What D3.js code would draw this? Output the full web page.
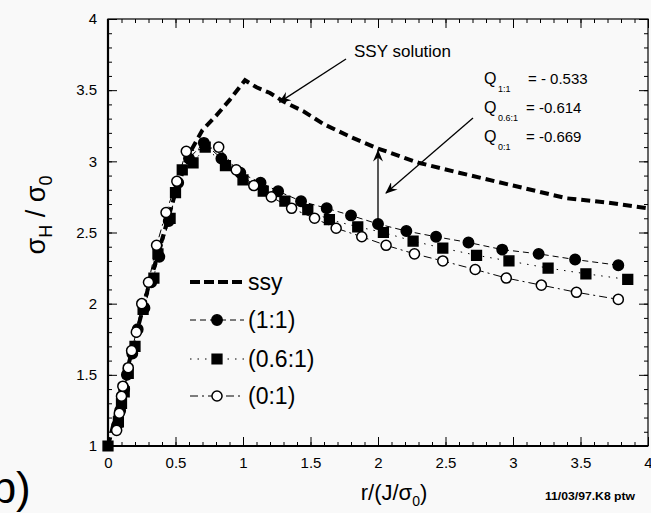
<!DOCTYPE html>
<html>
<head>
<meta charset="utf-8">
<script src="https://cdn.jsdelivr.net/npm/d3@7"></script>
<style>
  body { margin: 0; background: #f9f9f9; }
  svg { display: block; font-family: "Liberation Sans", Arial, sans-serif; }
</style>
</head>
<body>
<div id="chart"></div>
<script>
// values
var ssyX = [0.0, 0.1, 0.2, 0.3, 0.4, 0.5, 0.6, 0.7, 0.8, 0.9, 1.015, 1.1, 1.2, 1.3, 1.45, 1.6, 1.8, 2.0, 2.3, 2.6, 3.0, 3.4, 3.7, 4.0];
var ssyY = [1.0, 1.38, 1.75, 2.12, 2.45, 2.78, 3.05, 3.22, 3.32, 3.43, 3.57, 3.52, 3.48, 3.42, 3.35, 3.26, 3.17, 3.09, 2.99, 2.92, 2.83, 2.74, 2.71, 2.67];

var x11 = [0.07, 0.09, 0.12, 0.14, 0.18, 0.22, 0.27, 0.32, 0.38, 0.45, 0.52, 0.6, 0.71, 0.84, 0.98, 1.13, 1.26, 1.43, 1.62, 1.80, 2.0, 2.21, 2.43, 2.67, 2.92, 3.19, 3.46, 3.78];
var y11 = [1.15, 1.25, 1.40, 1.50, 1.65, 1.82, 1.97, 2.15, 2.33, 2.58, 2.85, 3.02, 3.13, 3.02, 2.92, 2.85, 2.79, 2.72, 2.67, 2.62, 2.56, 2.51, 2.47, 2.43, 2.38, 2.35, 2.31, 2.27];

var x61 = [0.0, 0.077, 0.10, 0.12, 0.15, 0.2, 0.26, 0.34, 0.37, 0.46, 0.5, 0.55, 0.63, 0.72, 0.87, 1.0, 1.15, 1.31, 1.48, 1.64, 1.85, 2.04, 2.26, 2.48, 2.73, 2.97, 3.26, 3.54, 3.85];
var y61 = [1.0, 1.17, 1.30, 1.38, 1.51, 1.70, 1.96, 2.18, 2.35, 2.60, 2.78, 2.94, 2.99, 3.10, 2.97, 2.87, 2.79, 2.72, 2.66, 2.59, 2.54, 2.50, 2.44, 2.39, 2.34, 2.30, 2.25, 2.21, 2.17];

var x01 = [0.064, 0.084, 0.10, 0.11, 0.15, 0.175, 0.21, 0.25, 0.30, 0.36, 0.43, 0.51, 0.58, 0.82, 0.95, 1.08, 1.21, 1.36, 1.53, 1.69, 1.88, 2.06, 2.27, 2.48, 2.72, 2.95, 3.21, 3.47, 3.78];
var y01 = [1.11, 1.23, 1.35, 1.42, 1.55, 1.67, 1.80, 2.0, 2.15, 2.41, 2.64, 2.86, 3.07, 3.10, 2.94, 2.83, 2.75, 2.67, 2.60, 2.53, 2.47, 2.41, 2.35, 2.30, 2.24, 2.18, 2.13, 2.08, 2.03];

var xTicks = [0, 0.5, 1, 1.5, 2, 2.5, 3, 3.5, 4];
var yTicks = [1, 1.5, 2, 2.5, 3, 3.5, 4];
var legendLabels = ["ssy", "(1:1)", "(0.6:1)", "(0:1)"];
var qNames = ["1:1", "0.6:1", "0:1"];
var qValues = ["- 0.533", "-0.614", "-0.669"];

var W = 651, H = 513;
var margin = {top: 19, right: 3, bottom: 67, left: 108},
    width = W - margin.left - margin.right,
    height = H - margin.top - margin.bottom;

var x = d3.scaleLinear().domain([0, 4]).range([0, width]);
var y = d3.scaleLinear().domain([1, 4]).range([height, 0]);

var svgRoot = d3.select("#chart").append("svg")
    .attr("width", W)
    .attr("height", H)
    .style("background", "#f9f9f9");

var defs = svgRoot.append("defs");
defs.append("marker")
    .attr("id", "arrow")
    .attr("viewBox", "0 0 12 10")
    .attr("refX", 11).attr("refY", 5)
    .attr("markerWidth", 12).attr("markerHeight", 10)
    .attr("markerUnits", "userSpaceOnUse")
    .attr("orient", "auto")
  .append("path")
    .attr("d", "M0,0 L12,5 L0,10 L4,5 Z")
    .style("fill", "#000");

var svg = svgRoot.append("g")
    .attr("transform", "translate(" + margin.left + "," + margin.top + ")");

// minor ticks every 0.1
var xMinor = d3.range(0, 40.5, 1).map(function(d) { return d / 10; });
var yMinor = d3.range(10, 40.5, 1).map(function(d) { return d / 10; });

function drawAxis(axis, tr) {
    var g = svg.append("g").attr("transform", tr).call(axis);
    g.select(".domain").remove();
    g.selectAll("line").style("stroke", "#000").style("stroke-width", 1);
    return g;
}

drawAxis(d3.axisBottom(x).tickValues(xMinor).tickSize(-4).tickFormat(""), "translate(0," + height + ")");
drawAxis(d3.axisTop(x).tickValues(xMinor).tickSize(-4).tickFormat(""), "translate(0,0)");
drawAxis(d3.axisLeft(y).tickValues(yMinor).tickSize(-4).tickFormat(""), "translate(0,0)");
drawAxis(d3.axisRight(y).tickValues(yMinor).tickSize(-4).tickFormat(""), "translate(" + width + ",0)");

var xb = drawAxis(d3.axisBottom(x).tickValues(xTicks).tickSize(-9).tickPadding(12)
    .tickFormat(function(d) { return d; }), "translate(0," + height + ")");
drawAxis(d3.axisTop(x).tickValues(xTicks).tickSize(-9).tickFormat(""), "translate(0,0)");
var yl = drawAxis(d3.axisLeft(y).tickValues(yTicks).tickSize(-9).tickPadding(11)
    .tickFormat(function(d) { return d; }), "translate(0,0)");
drawAxis(d3.axisRight(y).tickValues(yTicks).tickSize(-9).tickFormat(""), "translate(" + width + ",0)");

xb.selectAll("text").style("font-size", "15px").style("fill", "#000").attr("y", 11);
yl.selectAll("text").style("font-size", "15px").style("fill", "#000");

// frame
svg.append("rect")
    .attr("width", width).attr("height", height)
    .style("fill", "none").style("stroke", "#000").style("stroke-width", 1.2);
svg.append("line").attr("x1", 0).attr("x2", 0).attr("y1", 0).attr("y2", height)
    .style("stroke", "#000").style("stroke-width", 2.2);
svg.append("line").attr("x1", 0).attr("x2", width).attr("y1", height).attr("y2", height)
    .style("stroke", "#000").style("stroke-width", 2.2);

function pts(xs, ys) { return xs.map(function(v, i) { return [v, ys[i]]; }); }
var line = d3.line().x(function(d) { return x(d[0]); }).y(function(d) { return y(d[1]); });

var series = [
    {name: "(1:1)", data: pts(x11, y11), dash: "6,4", sym: d3.symbolCircle, size: 85, fill: "#000"},
    {name: "(0.6:1)", data: pts(x61, y61), dash: "1.5,6", sym: d3.symbolSquare, size: 95, fill: "#000"},
    {name: "(0:1)", data: pts(x01, y01), dash: "8,4,2,4", sym: d3.symbolCircle, size: 80, fill: "#fff"}
];

series.forEach(function(s) {
    svg.append("path").datum(s.data).attr("d", line)
        .style("fill", "none").style("stroke", "#000").style("stroke-width", 1)
        .style("stroke-dasharray", s.dash);
});

// SSY curve
svg.append("path").datum(pts(ssyX, ssyY)).attr("d", line)
    .style("fill", "none").style("stroke", "#000").style("stroke-width", 4)
    .style("stroke-dasharray", "9,5");

var symbol = d3.symbol();
series.forEach(function(s) {
    svg.selectAll(null).data(s.data).enter().append("path")
        .attr("d", symbol.type(s.sym).size(s.size)())
        .attr("transform", function(d) { return "translate(" + x(d[0]) + "," + y(d[1]) + ")"; })
        .style("fill", s.fill).style("stroke", "#000").style("stroke-width", 1.5);
});

// legend
var legend = svg.selectAll(".legend")
    .data(legendLabels)
    .enter().append("g")
    .attr("class", "legend")
    .attr("transform", function(d, i) { return "translate(82," + [263, 301, 340, 377][i] + ")"; });

legend.append("line")
    .attr("x1", 0).attr("x2", 54).attr("y1", 0).attr("y2", 0)
    .style("stroke", "#000")
    .style("stroke-width", function(d, i) { return i === 0 ? 4 : 1; })
    .style("stroke-dasharray", function(d, i) { return i === 0 ? "10,4" : series[i - 1].dash; });

legend.filter(function(d, i) { return i > 0; }).append("path")
    .attr("d", function(d, i) { return symbol.type(series[i].sym).size(series[i].size)(); })
    .attr("transform", "translate(27,0)")
    .style("fill", function(d, i) { return series[i].fill; })
    .style("stroke", "#000").style("stroke-width", 1.5);

legend.append("text")
    .attr("x", 58).attr("dy", "0.35em")
    .style("font-size", "23px")
    .text(function(d) { return d; });

// annotations
function arrow(x1, y1, x2, y2) {
    svgRoot.append("line")
        .attr("x1", x1).attr("y1", y1).attr("x2", x2).attr("y2", y2)
        .style("stroke", "#000").style("stroke-width", 1.3)
        .attr("marker-end", "url(#arrow)");
}
svgRoot.append("text").attr("x", 354).attr("y", 57)
    .style("font-size", "17px").text("SSY solution");
arrow(346, 59, x(1.3) + margin.left - 4, y(3.43) + margin.top + 2);
arrow(473, 118, 386, 193);
arrow(x(2.0) + margin.left, y(2.56) + margin.top, x(2.0) + margin.left, y(3.09) + margin.top + 2);

var q = svgRoot.selectAll(".q").data(qNames).enter().append("g")
    .attr("transform", function(d, i) { return "translate(484," + (84 + i * 29) + ")"; });
q.append("text").style("font-size", "16px").text("Q");
q.append("text").attr("x", 14).attr("y", 8).style("font-size", "9px").text(function(d) { return d; });
q.append("text").style("font-size", "15px")
    .text(function(d, i) { return "=  " + qValues[i]; })
    .attr("x", function(d, i) { return i === 0 ? 44 : 42; });

// axis titles
var yt = svgRoot.append("text")
    .attr("transform", "translate(45,215) rotate(-90)")
    .attr("text-anchor", "middle")
    .style("font-size", "27px");
yt.append("tspan").text("σ");
yt.append("tspan").attr("dy", 7).style("font-size", "18px").text("H");
yt.append("tspan").attr("dy", -7).text(" / σ");
yt.append("tspan").attr("dy", 7).style("font-size", "18px").text("0");

var xt = svgRoot.append("text")
    .attr("x", 394).attr("y", 500)
    .attr("text-anchor", "middle")
    .style("font-size", "22px");
xt.append("tspan").text("r/(J/σ");
xt.append("tspan").attr("dy", 6).style("font-size", "14px").text("0");
xt.append("tspan").attr("dy", -6).text(")");

svgRoot.append("text").attr("x", 545).attr("y", 500)
    .attr("textLength", 90).attr("lengthAdjust", "spacingAndGlyphs")
    .style("font-size", "10px").style("font-weight", "bold").text("11/03/97.K8 ptw");

svgRoot.append("text").attr("x", -23).attr("y", 503)
    .style("font-size", "44px").text("(b)");
</script>
</body>
</html>
